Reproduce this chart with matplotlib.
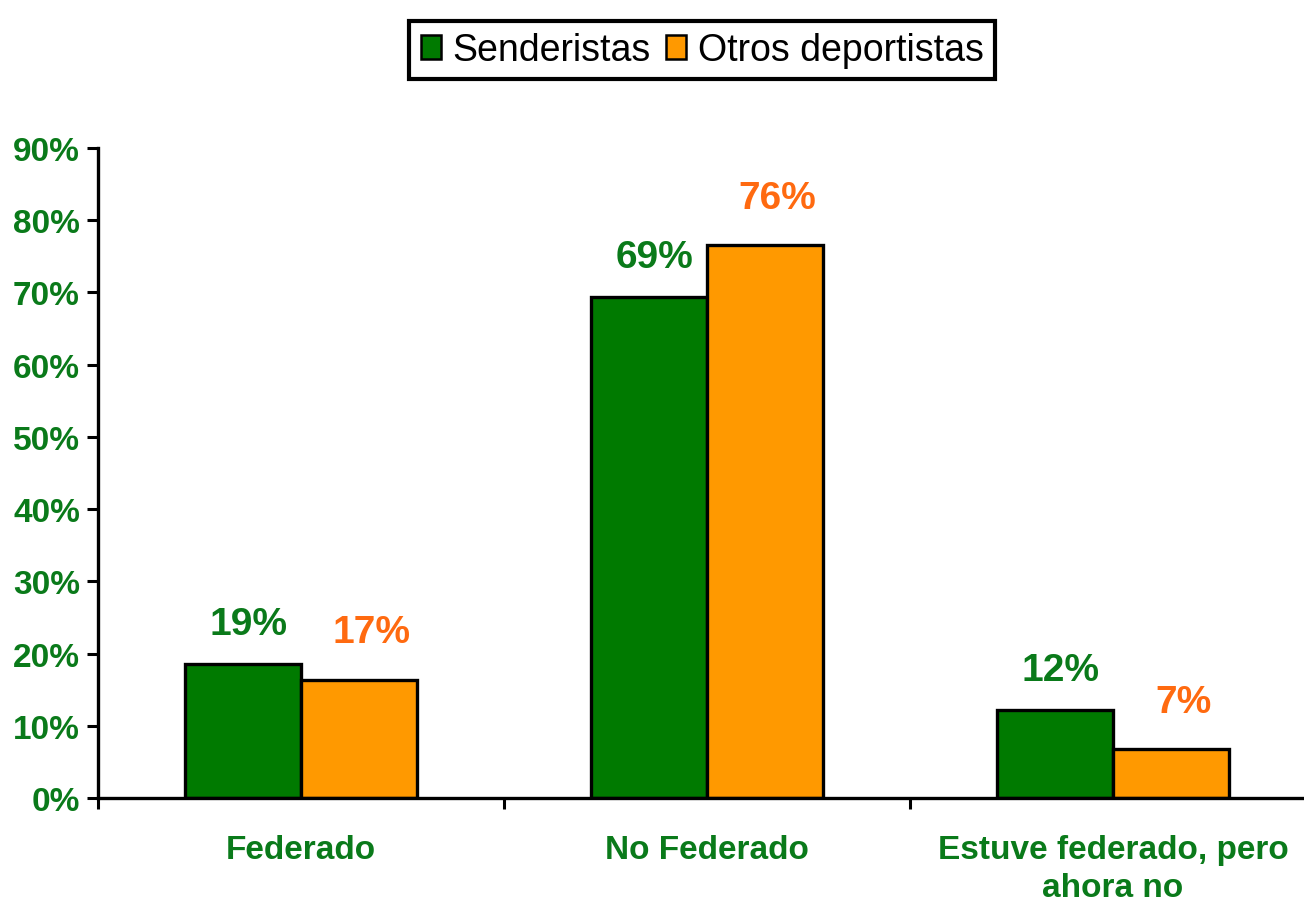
import numpy as np
from matplotlib import pyplot as plt
from matplotlib.patches import Patch

categorias = ['Federado', 'No Federado', 'Estuve federado, pero\nahora no']
senderistas = [18.5, 69.4, 12.2]
otros = [16.4, 76.6, 6.8]
etiq_senderistas = ['19%', '69%', '12%']
etiq_otros = ['17%', '76%', '7%']
series = ['Senderistas', 'Otros deportistas']

VERDE = '#007a00'
NARANJA = '#ff9900'
TXT_VERDE = '#0a7a1a'
TXT_NARANJA = '#ff6a10'

plt.rcParams['font.family'] = ['Liberation Sans', 'DejaVu Sans']

fig = plt.figure(figsize=(13.04, 9.04), dpi=100)
ax = fig.add_axes([98 / 1304, 1 - 799 / 904, 1218 / 1304, 650 / 904])

ind = np.arange(len(categorias))
w = 0.285
ax.bar(ind - w / 2, senderistas, width=w, color=VERDE, edgecolor='black', linewidth=2.4)
ax.bar(ind + w / 2, otros, width=w, color=NARANJA, edgecolor='black', linewidth=2.4)

for i in ind:
    ax.annotate(etiq_senderistas[i], (i - w / 2, senderistas[i]), xytext=(4, 16),
                textcoords='offset points', ha='center', va='bottom',
                color=TXT_VERDE, fontsize=28, fontweight='bold')
    ax.annotate(etiq_otros[i], (i + w / 2, otros[i]), xytext=(9, 21),
                textcoords='offset points', ha='center', va='bottom',
                color=TXT_NARANJA, fontsize=28, fontweight='bold')

ax.set_xlim(-0.5, 2.5)
ax.set_ylim(0, 90)
ax.set_yticks(np.arange(0, 91, 10))
ax.set_yticklabels([f'{v}%' for v in range(0, 91, 10)])
ax.set_xticks(ind)
ax.set_xticklabels(categorias, linespacing=1.3)
ax.set_xticks([-0.5, 0.5, 1.5], minor=True)

ax.tick_params(axis='y', colors=TXT_VERDE, labelsize=24, length=8, width=2.2, pad=5, direction='out')
ax.tick_params(axis='y', color='black')
ax.tick_params(axis='x', which='major', length=0, pad=26, labelsize=24, labelcolor=TXT_VERDE)
ax.tick_params(axis='x', which='minor', length=8, width=2.2, direction='out', color='black')
for lab in ax.get_yticklabels() + ax.get_xticklabels():
    lab.set_fontweight('bold')

for s in ['top', 'right']:
    ax.spines[s].set_visible(False)
for s in ['left', 'bottom']:
    ax.spines[s].set_linewidth(2.4)

handles = [Patch(facecolor=VERDE, edgecolor='black', linewidth=1.8),
           Patch(facecolor=NARANJA, edgecolor='black', linewidth=1.8)]
leg = fig.legend(handles, series, loc='center', bbox_to_anchor=(702 / 1304, 1 - 51 / 904),
                 ncol=2, fontsize=27, frameon=True, fancybox=False, framealpha=1,
                 handlelength=0.55, handleheight=0.6, handletextpad=0.3, columnspacing=0.4,
                 borderpad=0.3, borderaxespad=0)
leg.get_frame().set_edgecolor('black')
leg.get_frame().set_linewidth(3)

fig.savefig('out.png', dpi=100)
